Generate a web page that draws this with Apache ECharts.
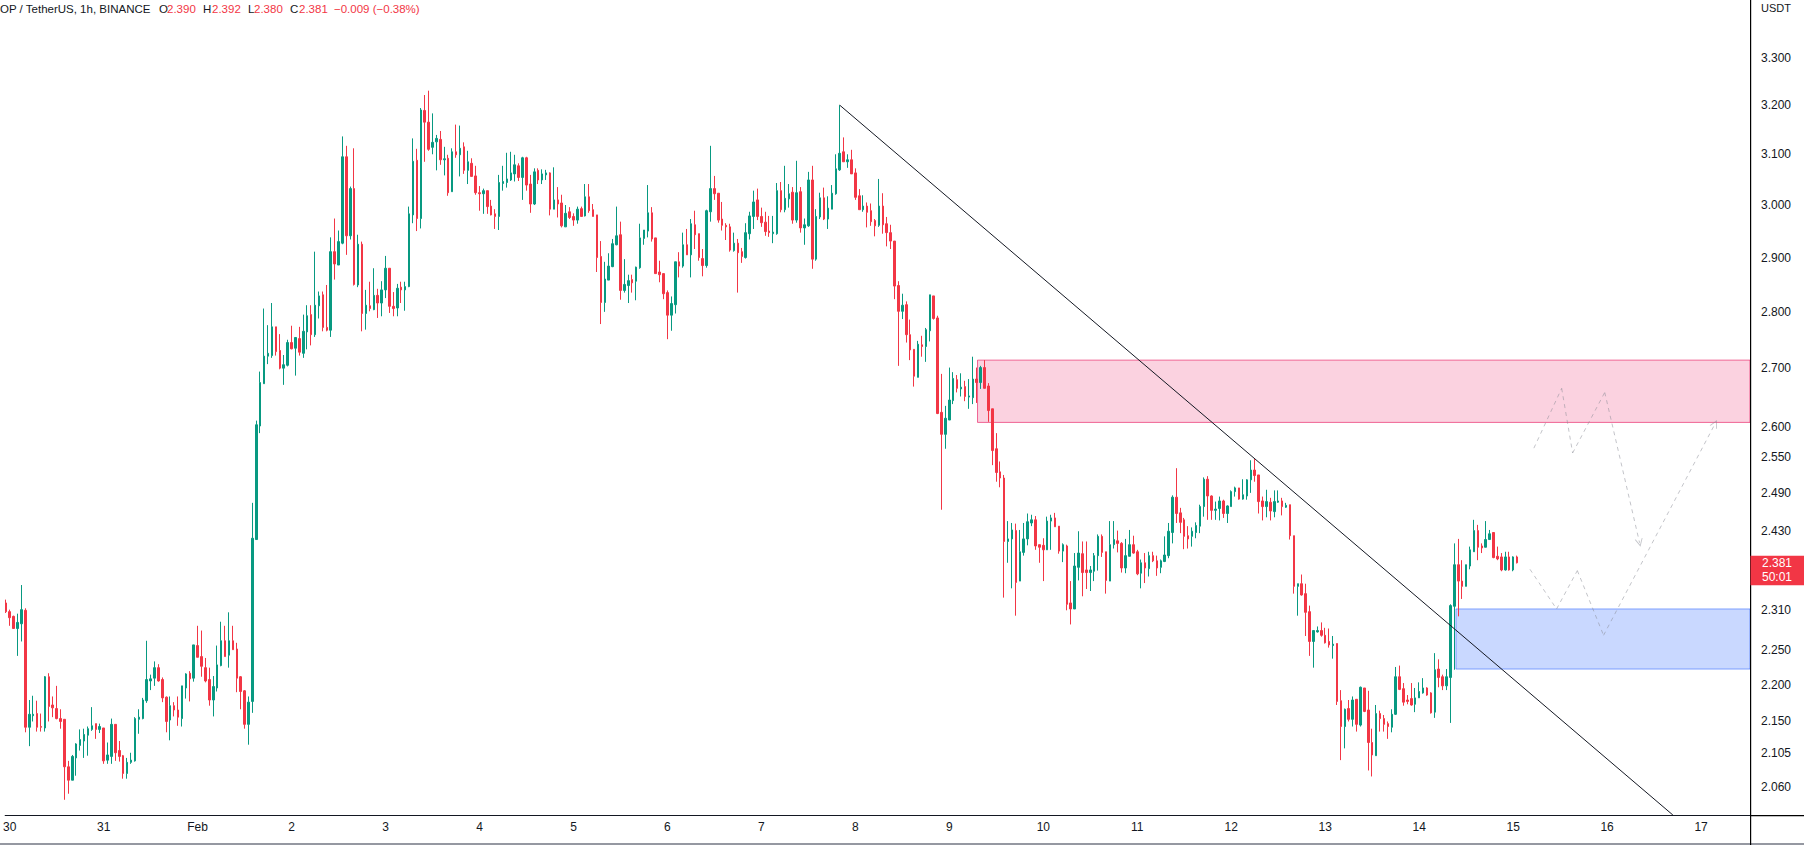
<!DOCTYPE html>
<html>
<head>
<meta charset="utf-8">
<script src="https://cdn.jsdelivr.net/npm/echarts@6/dist/echarts.min.js"></script>
<style>
html,body{margin:0;padding:0;background:#ffffff;}
#chart{width:1804px;height:845px;}
</style>
</head>
<body>
<div id="chart"></div>
<script>
// OP / TetherUS 1h candles, each item [open, close, low, high]; first candle is Jan 29 23:00
const d0129 = [[2.320,2.307,2.305,2.325]];
const d0130 = [
[2.307,2.298,2.286,2.310],[2.300,2.282,2.282,2.301],[2.282,2.291,2.242,2.304],[2.289,2.310,2.263,2.347],
[2.309,2.141,2.134,2.312],[2.141,2.159,2.115,2.179],[2.157,2.159,2.149,2.185],[2.160,2.141,2.135,2.178],
[2.142,2.141,2.135,2.160],[2.140,2.212,2.135,2.213],[2.212,2.170,2.149,2.217],[2.172,2.168,2.155,2.184],
[2.167,2.153,2.152,2.199],[2.153,2.149,2.139,2.166],[2.152,2.087,2.043,2.152],[2.087,2.069,2.051,2.095],
[2.069,2.101,2.069,2.103],[2.099,2.118,2.075,2.119],[2.116,2.124,2.109,2.138],[2.122,2.131,2.099,2.139],
[2.130,2.139,2.102,2.142],[2.138,2.143,2.136,2.169],[2.146,2.138,2.125,2.146],[2.138,2.142,2.133,2.146]];
const d0131 = [
[2.140,2.095,2.091,2.140],[2.096,2.103,2.091,2.120],[2.101,2.145,2.091,2.153],[2.145,2.106,2.095,2.145],
[2.109,2.101,2.094,2.122],[2.102,2.078,2.071,2.103],[2.078,2.093,2.071,2.099],[2.093,2.096,2.091,2.106],
[2.095,2.153,2.094,2.155],[2.152,2.155,2.132,2.166],[2.153,2.179,2.152,2.182],[2.178,2.208,2.175,2.264],
[2.206,2.209,2.193,2.215],[2.210,2.225,2.199,2.234],[2.225,2.206,2.205,2.230],[2.208,2.182,2.176,2.211],
[2.183,2.149,2.134,2.184],[2.151,2.171,2.123,2.184],[2.171,2.165,2.156,2.176],[2.165,2.155,2.143,2.184],
[2.153,2.199,2.142,2.199],[2.196,2.216,2.181,2.217],[2.217,2.209,2.177,2.220],[2.210,2.258,2.205,2.258]];
const d0201 = [
[2.257,2.240,2.240,2.286],[2.241,2.227,2.212,2.279],[2.225,2.206,2.204,2.239],[2.208,2.179,2.171,2.225],
[2.179,2.198,2.156,2.213],[2.196,2.229,2.191,2.257],[2.228,2.264,2.227,2.292],[2.264,2.241,2.241,2.286],
[2.243,2.264,2.225,2.306],[2.264,2.251,2.251,2.286],[2.252,2.210,2.190,2.261],[2.212,2.191,2.166,2.213],
[2.192,2.145,2.139,2.193],[2.145,2.176,2.117,2.184],[2.177,2.419,2.161,2.475],[2.417,2.603,2.417,2.610],
[2.601,2.675,2.589,2.694],[2.673,2.721,2.673,2.806],[2.721,2.726,2.707,2.776],[2.722,2.773,2.718,2.816],
[2.773,2.729,2.722,2.773],[2.731,2.700,2.698,2.760],[2.700,2.706,2.671,2.723],[2.705,2.745,2.703,2.750]];
const d0202 = [
[2.745,2.734,2.733,2.775],[2.735,2.754,2.687,2.754],[2.752,2.728,2.722,2.773],[2.726,2.765,2.718,2.795],
[2.764,2.793,2.733,2.812],[2.795,2.759,2.740,2.812],[2.759,2.812,2.755,2.911],[2.811,2.829,2.788,2.837],
[2.831,2.772,2.765,2.837],[2.772,2.767,2.765,2.849],[2.767,2.911,2.755,2.938],[2.911,2.888,2.859,2.974],
[2.886,2.930,2.886,2.951],[2.927,3.095,2.925,3.136],[3.095,2.941,2.905,3.117],[2.941,3.032,2.934,3.036],
[3.032,2.850,2.848,3.112],[2.849,2.925,2.845,2.943],[2.925,2.797,2.765,2.930],[2.797,2.812,2.768,2.840],
[2.811,2.806,2.801,2.855],[2.804,2.830,2.803,2.880],[2.830,2.816,2.789,2.842],[2.816,2.840,2.792,2.856]];
const d0203 = [
[2.840,2.880,2.825,2.903],[2.880,2.810,2.798,2.880],[2.810,2.806,2.792,2.836],[2.807,2.843,2.792,2.851],
[2.845,2.840,2.816,2.855],[2.840,2.846,2.802,2.855],[2.846,2.983,2.845,2.997],[2.981,3.086,2.965,3.132],
[3.088,2.974,2.950,3.111],[2.974,3.190,2.955,3.194],[3.189,3.165,3.085,3.221],[3.165,3.110,3.107,3.230],
[3.114,3.124,3.100,3.183],[3.125,3.132,3.068,3.139],[3.130,3.089,3.079,3.147],[3.089,3.091,3.058,3.115],
[3.092,3.024,3.018,3.099],[3.026,3.105,3.026,3.112],[3.105,3.099,3.093,3.160],[3.099,3.112,3.056,3.158],
[3.115,3.068,3.061,3.124],[3.068,3.085,3.041,3.107],[3.082,3.056,3.056,3.092],[3.057,3.024,3.020,3.077]];
const d0204 = [
[3.024,3.022,2.989,3.037],[3.022,3.028,2.983,3.032],[3.028,2.997,2.983,3.028],[2.998,2.981,2.980,3.010],
[2.983,2.978,2.954,2.992],[2.978,3.044,2.952,3.059],[3.042,3.046,3.028,3.077],[3.044,3.051,3.034,3.103],
[3.049,3.063,3.047,3.105],[3.061,3.079,3.046,3.099],[3.077,3.054,3.047,3.082],[3.054,3.093,3.010,3.095],
[3.093,3.039,3.028,3.095],[3.041,3.002,2.985,3.059],[3.002,3.065,3.000,3.072],[3.068,3.049,3.041,3.072],
[3.049,3.061,3.041,3.070],[3.059,3.063,3.049,3.069],[3.063,2.992,2.980,3.064],[2.992,3.010,2.992,3.074],
[3.010,3.002,2.976,3.035],[3.004,2.960,2.957,3.020],[2.958,2.984,2.958,3.000],[2.987,2.976,2.973,2.996]];
const d0205 = [
[2.978,2.971,2.960,2.984],[2.971,2.992,2.964,2.997],[2.993,2.978,2.978,2.997],[2.979,3.016,2.978,3.041],
[3.016,2.989,2.985,3.041],[2.991,2.978,2.978,3.002],[2.981,2.900,2.873,2.981],[2.902,2.817,2.778,2.931],
[2.817,2.860,2.800,2.892],[2.858,2.884,2.858,2.908],[2.883,2.926,2.882,2.935],[2.924,2.941,2.923,2.997],
[2.943,2.839,2.822,2.968],[2.839,2.850,2.835,2.897],[2.848,2.857,2.816,2.868],[2.859,2.853,2.835,2.868],
[2.856,2.882,2.821,2.883],[2.881,2.937,2.879,2.964],[2.936,2.952,2.924,2.952],[2.950,2.985,2.938,3.039],
[2.985,2.935,2.930,2.996],[2.937,2.870,2.870,2.937],[2.873,2.868,2.854,2.894],[2.870,2.833,2.823,2.870]];
const d0206 = [
[2.835,2.794,2.751,2.839],[2.794,2.815,2.766,2.828],[2.813,2.892,2.797,2.892],[2.892,2.884,2.863,2.910],
[2.884,2.924,2.881,2.947],[2.924,2.905,2.905,2.954],[2.905,2.964,2.863,2.973],[2.962,2.943,2.916,2.989],
[2.945,2.900,2.894,2.945],[2.898,2.885,2.865,2.916],[2.885,2.989,2.881,2.991],[2.987,3.032,2.968,3.117],
[3.032,3.022,3.010,3.057],[3.023,2.971,2.966,3.023],[2.973,2.961,2.951,3.006],[2.961,2.958,2.933,2.965],
[2.958,2.914,2.911,2.964],[2.913,2.927,2.911,2.947],[2.927,2.909,2.835,2.935],[2.911,2.902,2.890,2.918],
[2.900,2.947,2.898,2.965],[2.945,2.979,2.934,2.987],[2.978,3.006,2.954,3.028],[3.010,2.978,2.971,3.032]];
const d0207 = [
[2.978,2.966,2.958,2.995],[2.967,2.949,2.941,2.987],[2.950,2.947,2.939,2.979],[2.945,2.948,2.927,2.979],
[2.945,3.028,2.943,3.043],[3.028,2.991,2.986,3.045],[2.991,3.013,2.986,3.077],[3.012,3.022,2.995,3.041],
[3.025,2.971,2.964,3.035],[2.971,3.024,2.966,3.087],[3.026,2.956,2.947,3.035],[2.956,2.962,2.924,2.974],
[2.960,3.049,2.958,3.065],[3.049,2.897,2.879,3.077],[2.897,2.978,2.894,2.992],[2.977,3.014,2.973,3.024],
[3.014,2.973,2.971,3.034],[2.973,2.994,2.954,3.017],[2.992,3.023,2.992,3.039],[3.022,3.071,3.020,3.100],
[3.069,3.102,3.067,3.200],[3.105,3.085,3.085,3.134],[3.085,3.089,3.073,3.100],[3.089,3.061,3.061,3.109]];
const d0208 = [
[3.063,3.015,3.010,3.072],[3.018,2.991,2.991,3.031],[2.991,2.998,2.987,3.019],[2.998,2.986,2.957,3.005],
[2.989,2.968,2.960,3.003],[2.970,2.960,2.940,2.973],[2.961,2.998,2.958,3.051],[2.998,2.962,2.945,3.023],
[2.964,2.947,2.921,2.977],[2.947,2.931,2.916,2.962],[2.931,2.847,2.823,2.931],[2.848,2.801,2.704,2.856],
[2.801,2.812,2.787,2.833],[2.813,2.759,2.745,2.819],[2.759,2.732,2.714,2.786],[2.733,2.686,2.668,2.733],
[2.684,2.742,2.684,2.748],[2.741,2.738,2.720,2.757],[2.738,2.768,2.711,2.771],[2.766,2.831,2.747,2.831],
[2.829,2.788,2.786,2.829],[2.789,2.622,2.621,2.793],[2.624,2.587,2.464,2.690],[2.587,2.614,2.563,2.635]];
const d0209 = [
[2.611,2.645,2.611,2.701],[2.644,2.682,2.638,2.693],[2.680,2.665,2.658,2.688],[2.664,2.667,2.651,2.691],
[2.668,2.651,2.643,2.678],[2.650,2.652,2.630,2.681],[2.649,2.681,2.638,2.720],[2.681,2.675,2.640,2.701],
[2.675,2.701,2.664,2.704],[2.701,2.665,2.665,2.714],[2.669,2.627,2.608,2.674],[2.630,2.560,2.536,2.630],
[2.563,2.524,2.509,2.589],[2.525,2.515,2.500,2.542],[2.515,2.414,2.328,2.520],[2.414,2.418,2.381,2.446],
[2.418,2.432,2.342,2.443],[2.431,2.351,2.301,2.442],[2.353,2.398,2.353,2.432],[2.397,2.418,2.392,2.443],
[2.418,2.445,2.408,2.458],[2.443,2.448,2.438,2.456],[2.448,2.407,2.401,2.454],[2.409,2.405,2.381,2.409]];
const d0210 = [
[2.408,2.401,2.353,2.419],[2.401,2.446,2.401,2.453],[2.446,2.451,2.401,2.456],[2.451,2.437,2.437,2.459],
[2.438,2.399,2.395,2.438],[2.399,2.409,2.382,2.411],[2.407,2.318,2.309,2.409],[2.320,2.311,2.288,2.353],
[2.311,2.376,2.311,2.396],[2.374,2.396,2.354,2.430],[2.395,2.366,2.330,2.414],[2.370,2.366,2.341,2.414],
[2.366,2.370,2.338,2.376],[2.368,2.392,2.353,2.396],[2.392,2.422,2.369,2.425],[2.422,2.397,2.390,2.425],
[2.398,2.354,2.334,2.398],[2.353,2.409,2.353,2.446],[2.409,2.417,2.403,2.446],[2.415,2.411,2.397,2.431],
[2.411,2.373,2.366,2.413],[2.373,2.392,2.365,2.418],[2.391,2.409,2.391,2.432],[2.409,2.396,2.395,2.423]];
const d0211 = [
[2.398,2.364,2.362,2.401],[2.365,2.381,2.342,2.386],[2.381,2.373,2.350,2.396],[2.372,2.392,2.360,2.398],
[2.392,2.384,2.382,2.398],[2.384,2.373,2.361,2.392],[2.374,2.384,2.365,2.386],[2.383,2.393,2.382,2.422],
[2.392,2.430,2.388,2.443],[2.428,2.484,2.411,2.487],[2.484,2.458,2.443,2.531],[2.459,2.444,2.427,2.467],
[2.448,2.422,2.402,2.451],[2.423,2.418,2.403,2.438],[2.422,2.430,2.406,2.436],[2.428,2.439,2.419,2.444],
[2.438,2.469,2.427,2.472],[2.469,2.513,2.453,2.516],[2.513,2.486,2.448,2.518],[2.486,2.463,2.448,2.487],
[2.463,2.465,2.448,2.477],[2.466,2.478,2.447,2.485],[2.478,2.458,2.451,2.480],[2.458,2.470,2.443,2.471]];
const d0212 = [
[2.469,2.493,2.469,2.495],[2.493,2.499,2.485,2.501],[2.499,2.481,2.480,2.499],[2.481,2.488,2.480,2.513],
[2.486,2.512,2.480,2.513],[2.512,2.528,2.491,2.544],[2.528,2.519,2.509,2.546],[2.520,2.477,2.458,2.520],
[2.478,2.469,2.447,2.485],[2.469,2.477,2.452,2.496],[2.476,2.462,2.447,2.483],[2.461,2.477,2.452,2.495],
[2.476,2.478,2.475,2.495],[2.478,2.469,2.455,2.483],[2.468,2.471,2.467,2.475],[2.472,2.423,2.417,2.472],
[2.423,2.345,2.334,2.423],[2.345,2.349,2.301,2.349],[2.349,2.332,2.331,2.363],[2.334,2.306,2.271,2.349],
[2.307,2.263,2.242,2.316],[2.263,2.279,2.225,2.279],[2.277,2.279,2.276,2.285],[2.279,2.272,2.270,2.291]];
const d0213 = [
[2.272,2.261,2.260,2.283],[2.263,2.258,2.254,2.282],[2.257,2.259,2.238,2.271],[2.260,2.177,2.172,2.260],
[2.178,2.142,2.096,2.193],[2.142,2.166,2.112,2.167],[2.167,2.152,2.149,2.179],[2.152,2.179,2.142,2.184],
[2.180,2.145,2.135,2.180],[2.144,2.197,2.142,2.198],[2.196,2.163,2.162,2.196],[2.165,2.120,2.082,2.192],
[2.120,2.103,2.074,2.139],[2.102,2.160,2.102,2.172],[2.160,2.153,2.135,2.164],[2.153,2.145,2.135,2.158],
[2.146,2.142,2.125,2.149],[2.141,2.159,2.134,2.166],[2.159,2.212,2.158,2.226],[2.212,2.194,2.193,2.228],
[2.195,2.176,2.171,2.203],[2.179,2.177,2.173,2.186],[2.181,2.172,2.171,2.203],[2.173,2.182,2.162,2.196]];
const d0214 = [
[2.182,2.191,2.182,2.204],[2.189,2.196,2.188,2.210],[2.196,2.186,2.185,2.197],[2.189,2.161,2.160,2.190],
[2.162,2.222,2.154,2.246],[2.223,2.211,2.197,2.237],[2.212,2.199,2.193,2.215],[2.199,2.212,2.193,2.223],
[2.211,2.316,2.147,2.318],[2.315,2.378,2.222,2.411],[2.378,2.353,2.300,2.418],[2.353,2.345,2.326,2.385],
[2.345,2.378,2.345,2.378],[2.376,2.401,2.371,2.406],[2.398,2.431,2.398,2.448],[2.431,2.405,2.385,2.440],
[2.407,2.404,2.396,2.411],[2.405,2.417,2.405,2.446],[2.417,2.426,2.417,2.432],[2.428,2.389,2.388,2.428],
[2.391,2.387,2.385,2.406],[2.390,2.370,2.368,2.396],[2.370,2.390,2.369,2.398],[2.390,2.370,2.369,2.398]];
const d0215 = [[2.370,2.390,2.368,2.391],[2.390,2.381,2.380,2.392]];

// x axis: hour index (0 = Jan 29 23:00); day labels at midnight
const dayTicks  = [1,25,49,73,97,121,145,169,193,217,241,265,289,313,337,361,385,409,433];
const dayLabels = ['30','31','Feb','2','3','4','5','6','7','8','9','10','11','12','13','14','15','16','17'];
// price scale tick labels
const priceTicks = [2.06,2.105,2.15,2.2,2.25,2.31,2.43,2.49,2.55,2.6,2.7,2.8,2.9,3.0,3.1,3.2,3.3];

// drawings (hour index, price)
const resistanceZone = [[248.2, 2.714], [445.5, 2.607]];
const supportZone    = [[370.4, 2.311], [445.5, 2.223]];
const trendLine = [[213, 3.200], [425.8, 2.023]];
const projectionA = [[390.3,2.564],[397.4,2.665],[400.2,2.556],[408.4,2.658],[417.3,2.412]];
const projectionB = [[389.3,2.371],[396.1,2.311],[401.4,2.369],[408.1,2.272],[436.6,2.605]];

const X_MIN = -0.153, X_MAX = 445.5;
const Y_MIN = 2.0230, Y_MAX = 3.4249;

const UP = '#089981', DOWN = '#f23645', TXT = '#131722';
const FONT = 'Liberation Sans, Arial, sans-serif';

const allDays = [d0129,d0130,d0131,d0201,d0202,d0203,d0204,d0205,d0206,d0207,d0208,d0209,d0210,d0211,d0212,d0213,d0214,d0215];
const candles = [];
allDays.forEach(day => day.forEach(c => candles.push([candles.length, c[0], c[1], c[2], c[3]])));
const last = candles[candles.length - 1];

function segments(path) {
  const out = [];
  for (let k = 0; k < path.length - 2; k++) out.push({coords: [path[k], path[k + 1]]});
  return out;
}
function lastSegment(path) {
  return [{coords: [path[path.length - 2], path[path.length - 1]]}];
}
const chevron = 'path://M0,10 L5,0 L10,10 L8.8,10 L5,2.4 L1.2,10 Z';
const dashStyle = {color: '#878a94', width: 1, type: [4, 4]};

const chart = echarts.init(document.getElementById('chart'), null, {renderer: 'svg'});
chart.setOption({
  animation: false,
  backgroundColor: '#ffffff',
  textStyle: {fontFamily: FONT},
  grid: {left: 0, right: 54, top: 0, bottom: 30},
  xAxis: {
    type: 'value', min: X_MIN, max: X_MAX,
    axisLine: {show: true, onZero: false, lineStyle: {color: TXT, width: 1}},
    axisTick: {show: false}, splitLine: {show: false},
    axisLabel: {
      customValues: dayTicks,
      formatter: v => dayLabels[dayTicks.indexOf(Math.round(v))],
      color: TXT, fontSize: 12, margin: 6, fontFamily: FONT
    }
  },
  yAxis: {
    type: 'log', logBase: 10, min: Y_MIN, max: Y_MAX, position: 'right',
    axisLine: {show: true, onZero: false, lineStyle: {color: TXT, width: 1}},
    axisTick: {show: false}, splitLine: {show: false},
    axisLabel: {
      customValues: priceTicks,
      formatter: v => Number(v).toFixed(3),
      color: TXT, fontSize: 12, margin: 11, fontFamily: FONT
    }
  },
  series: [
    {
      type: 'candlestick', name: 'OPUSDT', z: 3,
      data: candles, encode: {x: 0, y: [1, 2, 3, 4]},
      barWidth: 2,
      itemStyle: {color: UP, color0: DOWN, borderColor: UP, borderColor0: DOWN, borderWidth: 1},
      markArea: {
        silent: true,
        data: [
          [{coord: resistanceZone[0], itemStyle: {color: 'rgba(233,30,99,0.2)', borderColor: 'rgba(233,30,99,0.65)', borderWidth: 1}},
           {coord: resistanceZone[1]}],
          [{coord: supportZone[0], itemStyle: {color: 'rgba(41,98,255,0.25)', borderColor: 'rgba(41,98,255,0.55)', borderWidth: 1}},
           {coord: supportZone[1]}]
        ]
      }
    },
    {
      type: 'lines', coordinateSystem: 'cartesian2d', z: 4, silent: true,
      lineStyle: {color: TXT, width: 1, opacity: 1},
      data: [{coords: trendLine}]
    },
    {
      type: 'lines', coordinateSystem: 'cartesian2d', z: 4, silent: true,
      lineStyle: dashStyle,
      data: segments(projectionA).concat(segments(projectionB))
    },
    {
      type: 'lines', coordinateSystem: 'cartesian2d', z: 4, silent: true,
      lineStyle: dashStyle,
      symbol: ['none', chevron], symbolSize: 8,
      data: lastSegment(projectionA).concat(lastSegment(projectionB))
    }
  ]
});

const py = chart.convertToPixel({yAxisIndex: 0}, last[2]);
const pct = (last[2] - last[1]) / last[1] * 100;
chart.setOption({
  graphic: [
    {type: 'text', left: 0, top: 3, style: {text: 'OP / TetherUS, 1h, BINANCE', fill: TXT, font: '11.5px ' + FONT}},
    {type: 'text', x: 159, y: 3, style: {text: 'O', fill: TXT, font: '11.5px ' + FONT}},
    {type: 'text', x: 167, y: 3, style: {text: last[1].toFixed(3), fill: DOWN, font: '11.5px ' + FONT}},
    {type: 'text', x: 203, y: 3, style: {text: 'H', fill: TXT, font: '11.5px ' + FONT}},
    {type: 'text', x: 212, y: 3, style: {text: last[4].toFixed(3), fill: DOWN, font: '11.5px ' + FONT}},
    {type: 'text', x: 248, y: 3, style: {text: 'L', fill: TXT, font: '11.5px ' + FONT}},
    {type: 'text', x: 254, y: 3, style: {text: last[3].toFixed(3), fill: DOWN, font: '11.5px ' + FONT}},
    {type: 'text', x: 290, y: 3, style: {text: 'C', fill: TXT, font: '11.5px ' + FONT}},
    {type: 'text', x: 299, y: 3, style: {text: last[2].toFixed(3), fill: DOWN, font: '11.5px ' + FONT}},
    {type: 'text', x: 334, y: 3, style: {text: '\u2212' + Math.abs(last[2] - last[1]).toFixed(3) + ' (\u2212' + Math.abs(pct).toFixed(2) + '%)', fill: DOWN, font: '11.5px ' + FONT}},
    {type: 'text', x: 1761, y: 2, style: {text: 'USDT', fill: TXT, font: '11px ' + FONT}},
    {type: 'rect', z: 9, shape: {x: 1750, y: 0, width: 1.2, height: 845}, style: {fill: '#000000'}},
    {type: 'rect', z: 9, shape: {x: 1750, y: 815, width: 54, height: 1.2}, style: {fill: '#000000'}},
    {type: 'rect', shape: {x: 1750.5, y: py - 7, width: 54, height: 29.5}, style: {fill: DOWN}, z: 10},
    {type: 'text', x: 1777, y: py, z: 11, style: {text: last[2].toFixed(3), fill: '#ffffff', font: '12px ' + FONT, align: 'center', verticalAlign: 'middle'}},
    {type: 'text', x: 1777, y: py + 14.5, z: 11, style: {text: '50:01', fill: '#ffffff', font: '12px ' + FONT, align: 'center', verticalAlign: 'middle'}},
    {type: 'rect', shape: {x: 0, y: 843, width: 1804, height: 2}, style: {fill: '#9598a1'}}
  ]
});
</script>
</body>
</html>
